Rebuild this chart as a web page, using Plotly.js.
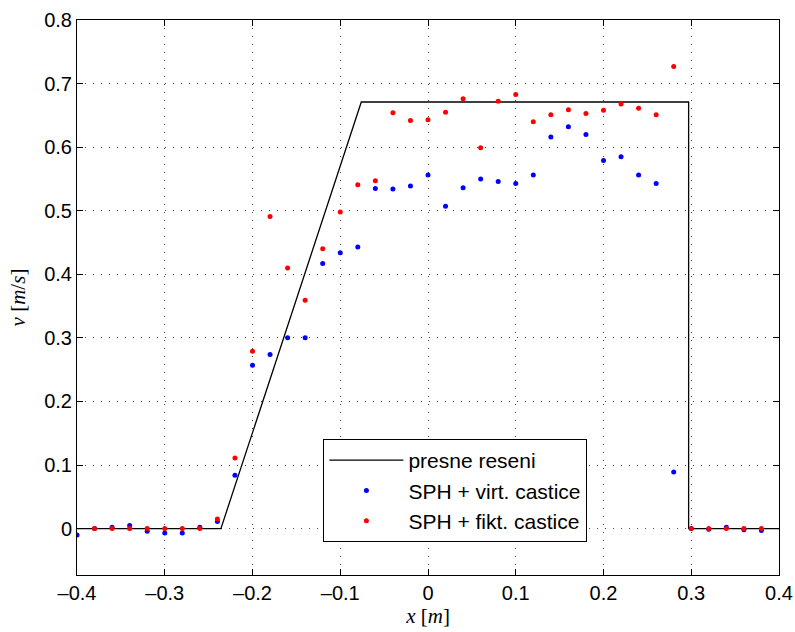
<!DOCTYPE html>
<html>
<head>
<meta charset="utf-8">
<script src="https://cdn.plot.ly/plotly-3.0.1.min.js"></script>
<style>html,body{margin:0;padding:0;background:#fff;}#chart{width:795px;height:632px;}</style>
</head>
<body>
<div id="chart"></div>
<script>
// exact solution
const exactX = [-0.4, -0.236, -0.076, 0.297, 0.297, 0.4];
const exactY = [0, 0, 0.671, 0.671, 0, 0];

// SPH + virtual particles (blue)
const virtX = [-0.40, -0.38, -0.36, -0.34, -0.32, -0.30, -0.28, -0.26, -0.24, -0.22,
  -0.20, -0.18, -0.16, -0.14, -0.12, -0.10, -0.08, -0.06, -0.04, -0.02,
  0.00, 0.02, 0.04, 0.06, 0.08, 0.10, 0.12, 0.14, 0.16, 0.18,
  0.20, 0.22, 0.24, 0.26, 0.28, 0.30, 0.32, 0.34, 0.36, 0.38];
const virtY = [-0.010, 0.000, 0.002, 0.005, -0.004, -0.007, -0.007, 0.002, 0.011, 0.084,
  0.257, 0.274, 0.300, 0.300, 0.417, 0.434, 0.443, 0.535, 0.534, 0.539,
  0.556, 0.507, 0.536, 0.550, 0.546, 0.543, 0.556, 0.616, 0.632, 0.620,
  0.579, 0.585, 0.556, 0.543, 0.089, 0.000, -0.001, 0.002, -0.002, -0.003];

// SPH + fictitious particles (red)
const fiktX = [-0.38, -0.36, -0.34, -0.32, -0.30, -0.28, -0.26, -0.24, -0.22,
  -0.20, -0.18, -0.16, -0.14, -0.12, -0.10, -0.08, -0.06, -0.04, -0.02,
  0.00, 0.02, 0.04, 0.06, 0.08, 0.10, 0.12, 0.14, 0.16, 0.18,
  0.20, 0.22, 0.24, 0.26, 0.28, 0.30, 0.32, 0.34, 0.36, 0.38];
const fiktY = [0.000, 0.000, 0.000, 0.000, 0.000, 0.000, 0.000, 0.015, 0.111,
  0.279, 0.491, 0.410, 0.359, 0.440, 0.498, 0.541, 0.547, 0.654, 0.642,
  0.643, 0.655, 0.676, 0.599, 0.672, 0.683, 0.640, 0.651, 0.659, 0.653,
  0.658, 0.668, 0.661, 0.651, 0.727, 0.000, 0.000, 0.000, 0.000, 0.000];

const legendNames = ['presne reseni', 'SPH + virt. castice', 'SPH + fikt. castice'];
const xTicks = [-0.4, -0.3, -0.2, -0.1, 0, 0.1, 0.2, 0.3, 0.4];
const yTicks = [0, 0.1, 0.2, 0.3, 0.4, 0.5, 0.6, 0.7, 0.8];

const traces = [
  {x: exactX, y: exactY, type: 'scatter', mode: 'lines', name: legendNames[0],
   line: {color: '#000', width: 1.3}, legendgroup: 'a'},
  {x: virtX, y: virtY, type: 'scatter', mode: 'markers', name: legendNames[1],
   marker: {color: '#0000ff', size: 5}, legendgroup: 'b'},
  {x: fiktX, y: fiktY, type: 'scatter', mode: 'markers', name: legendNames[2],
   marker: {color: '#ff0000', size: 5}, legendgroup: 'c'}
];

const sans = 'Liberation Sans, Arial, Helvetica, sans-serif';
const serif = 'Liberation Serif, Times New Roman, serif';

const axisCommon = {
  showline: true, linecolor: '#000', linewidth: 1, mirror: 'ticks',
  ticks: 'inside', ticklen: 6, tickcolor: '#000',
  showgrid: true, gridcolor: '#444', gridwidth: 1, griddash: '1px,7px',
  zeroline: false,
  tickfont: {family: sans, size: 20, color: '#000'}
};

const layout = {
  width: 795, height: 632,
  margin: {l: 77, r: 16, t: 20, b: 57},
  paper_bgcolor: '#fff', plot_bgcolor: '#fff',
  showlegend: true,
  legend: {x: 0.351, y: 0.245, xanchor: 'left', yanchor: 'top',
    bgcolor: '#fff', bordercolor: '#000', borderwidth: 1,
    tracegroupgap: 0, itemwidth: 74,
    font: {family: sans, size: 21, color: '#000'}},
  xaxis: Object.assign({}, axisCommon, {
    range: [-0.4, 0.4], tickvals: xTicks,
    ticktext: xTicks.map(v => v === 0 ? '0' : (v < 0 ? '\u2013' + Math.abs(v).toFixed(1) : v.toFixed(1))),
    title: {text: '<i>x</i> [<i>m</i>]', standoff: 4,
      font: {family: serif, size: 21, color: '#000'}}
  }),
  yaxis: Object.assign({}, axisCommon, {
    range: [-0.073, 0.8], tickvals: yTicks,
    ticktext: yTicks.map(v => v === 0 ? '0' : v.toFixed(1)),
    title: {text: '<i>v</i> [<i>m</i>/<i>s</i>]', standoff: 12,
      font: {family: serif, size: 21, color: '#000'}}
  })
};

Plotly.newPlot('chart', traces, layout, {staticPlot: true, displayModeBar: false});
</script>
</body>
</html>
